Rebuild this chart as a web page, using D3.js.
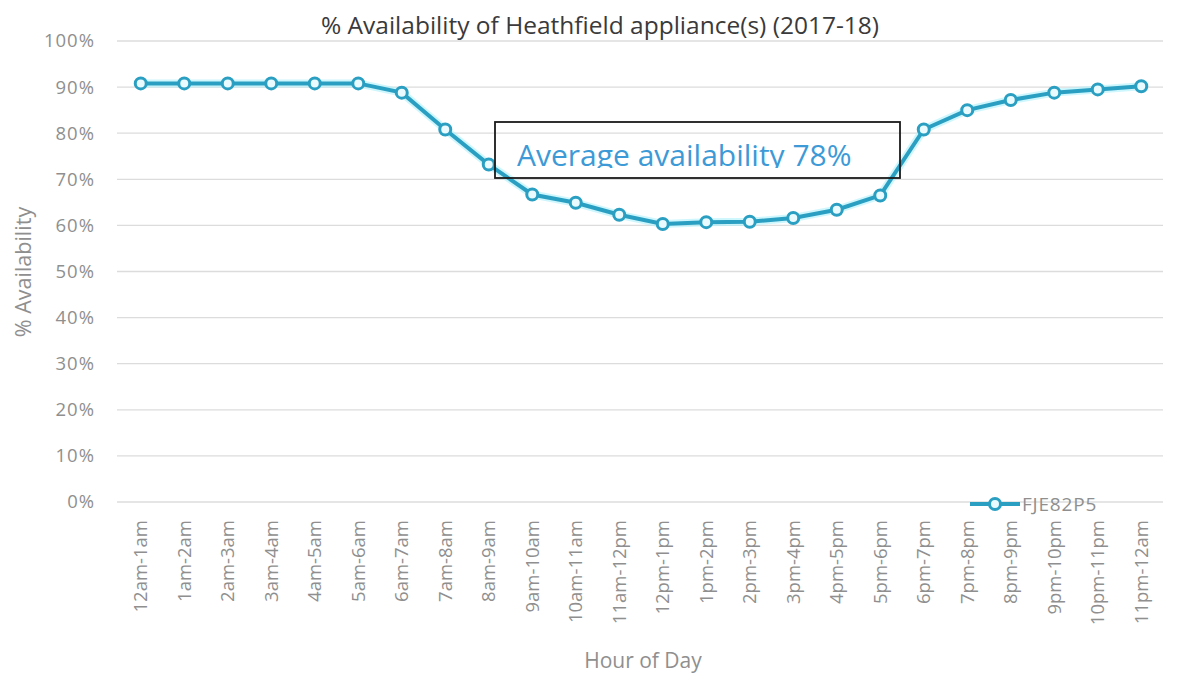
<!DOCTYPE html>
<html>
<head>
<meta charset="utf-8">
<script src="https://cdn.jsdelivr.net/npm/d3@7"></script>
<style>
  body { margin: 0; background: #fff; }
  text { font-family: "Open Sans", "Noto Sans", sans-serif; }
  .tick text { fill: #8f8f8f; }
</style>
</head>
<body>
<svg width="1186" height="682"></svg>
<script>
var hours = ['12am-1am','1am-2am','2am-3am','3am-4am','4am-5am','5am-6am','6am-7am','7am-8am',
  '8am-9am','9am-10am','10am-11am','11am-12pm','12pm-1pm','1pm-2pm','2pm-3pm','3pm-4pm',
  '4pm-5pm','5pm-6pm','6pm-7pm','7pm-8pm','8pm-9pm','9pm-10pm','10pm-11pm','11pm-12am'];
var availability = [90.8, 90.8, 90.8, 90.8, 90.8, 90.8, 88.8, 80.8, 73.2, 66.7, 64.9, 62.3,
  60.3, 60.7, 60.8, 61.6, 63.4, 66.5, 80.8, 85.0, 87.2, 88.8, 89.5, 90.2];
var yTicks = [0, 10, 20, 30, 40, 50, 60, 70, 80, 90, 100];
var seriesName = 'FJE82P5';
var note = 'Average availability 78%';

var svg = d3.select('svg');
var x = d3.scaleBand().domain(hours).range([119, 1163]);
var y = d3.scaleLinear().domain([0, 100]).range([502, 41]);
var teal = '#2a9fc2';

// gridlines
svg.append('g')
  .selectAll('line')
  .data(yTicks)
  .enter()
  .append('line')
    .attr('x1', 117).attr('x2', 1163)
    .attr('y1', function(d){return y(d);})
    .attr('y2', function(d){return y(d);})
    .attr('stroke', '#dcdcdc').attr('stroke-width', 1.3);

// y axis labels
svg.append('g')
  .attr('transform', 'translate(98,0)')
  .call(d3.axisLeft(y).tickValues(yTicks).tickFormat(function(d){return d + '%';}).tickSize(0))
  .call(function(g){ g.select('.domain').remove(); })
  .selectAll('text')
    .attr('font-size', 18.5).attr('letter-spacing', 1).attr('dx', 0);

// x axis labels
svg.append('g')
  .attr('transform', 'translate(0,514)')
  .call(d3.axisBottom(x).tickSize(0))
  .call(function(g){ g.select('.domain').remove(); })
  .selectAll('text')
    .attr('font-size', 18.5)
    .attr('transform', 'rotate(-90)')
    .attr('text-anchor', 'end')
    .attr('x', -6).attr('y', 0).attr('dy', '0.35em');

// titles
svg.append('text')
  .attr('x', 600).attr('y', 34)
  .attr('text-anchor', 'middle').attr('font-size', 24.5).attr('fill', '#3a3a3a')
  .text('% Availability of Heathfield appliance(s) (2017-18)');
svg.append('text')
  .attr('x', 643).attr('y', 668)
  .attr('text-anchor', 'middle').attr('font-size', 21).attr('fill', '#8f8f8f')
  .text('Hour of Day');
svg.append('text')
  .attr('transform', 'translate(31,272) rotate(-90)')
  .attr('text-anchor', 'middle').attr('font-size', 21.5).attr('fill', '#8f8f8f')
  .text('% Availability');

// series
var line = d3.line()
  .x(function(d, i){return x(hours[i]) + x.bandwidth() / 2;})
  .y(function(d){return y(d);});

svg.append('path')
  .datum(availability)
  .attr('d', line)
  .attr('fill', 'none').attr('stroke', '#aef0fb').attr('stroke-width', 8).attr('opacity', 0.6);
svg.append('path')
  .datum(availability)
  .attr('d', line)
  .attr('fill', 'none').attr('stroke', teal).attr('stroke-width', 4);

svg.append('g')
  .selectAll('circle')
  .data(availability)
  .enter()
  .append('circle')
    .attr('cx', function(d, i){return x(hours[i]) + x.bandwidth() / 2;})
    .attr('cy', function(d){return y(d);})
    .attr('r', 5.5)
    .attr('fill', '#e9fbff').attr('stroke', teal).attr('stroke-width', 3);

// legend
var lg = svg.append('g').attr('transform', 'translate(970,504)');
lg.append('line').attr('x1', 0).attr('x2', 50).attr('stroke', teal).attr('stroke-width', 4);
lg.append('circle').attr('cx', 25).attr('r', 5.5)
  .attr('fill', '#e9fbff').attr('stroke', teal).attr('stroke-width', 3);
lg.append('text').attr('x', 52).attr('dy', '0.35em')
  .attr('font-size', 19).attr('letter-spacing', 0.8).attr('fill', '#8f8f8f').text(seriesName);

// annotation box
svg.append('clipPath').attr('id', 'noteclip')
  .append('rect').attr('x', 494).attr('y', 122).attr('width', 406).attr('height', 46);
svg.append('text')
  .attr('x', 517).attr('y', 166)
  .attr('font-size', 30).attr('fill', '#3d9ad6')
  .attr('clip-path', 'url(#noteclip)')
  .text(note);
svg.append('rect')
  .attr('x', 495).attr('y', 122).attr('width', 405).attr('height', 56)
  .attr('fill', 'none').attr('stroke', '#1a1a1a').attr('stroke-width', 1.8);
</script>
</body>
</html>
